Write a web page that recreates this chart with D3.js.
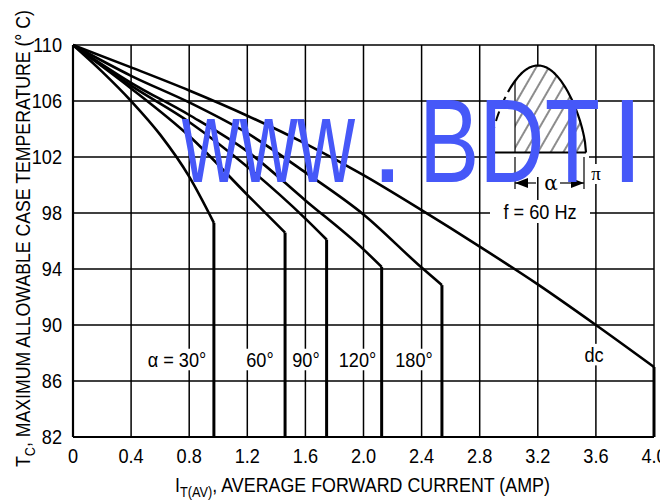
<!DOCTYPE html>
<html>
<head>
<meta charset="utf-8">
<script src="https://cdn.jsdelivr.net/npm/d3@7"></script>
<style>
  body { margin: 0; background: #fff; }
  svg { display: block; }
  text { font-family: "Liberation Sans", Arial, sans-serif; fill: #000; }
</style>
</head>
<body>
<svg id="chart" width="660" height="502"></svg>
<script>
// Axis ticks
var xTicks = [0, 0.4, 0.8, 1.2, 1.6, 2.0, 2.4, 2.8, 3.2, 3.6, 4.0];
var xTickLabels = ["0", "0.4", "0.8", "1.2", "1.6", "2.0", "2.4", "2.8", "3.2", "3.6", "4.0"];
var yTicks = [82, 86, 90, 94, 98, 102, 106, 110];

// Curves: average current (A) vs max case temperature (C)
var curveNames = ["α = 30°", "60°", "90°", "120°", "180°", "dc"];
var amps30  = [0, 0.2, 0.4, 0.6, 0.8, 0.97];
var temp30  = [110, 108.1, 106.0, 103.6, 100.6, 97.3];
var amps60  = [0, 0.4, 0.8, 1.2, 1.46];
var temp60  = [110, 106.9, 103.5, 99.3, 96.6];
var amps90  = [0, 0.4, 0.8, 1.2, 1.6, 1.746];
var temp90  = [110, 107.1, 104.5, 101.3, 97.6, 96.1];
var amps120 = [0, 0.4, 0.8, 1.2, 1.6, 2.0, 2.125];
var temp120 = [110, 107.3, 105.0, 102.4, 98.9, 95.4, 94.15];
var amps180 = [0, 0.4, 0.8, 1.2, 1.6, 2.0, 2.4, 2.54];
var temp180 = [110, 107.8, 105.9, 103.7, 100.9, 97.9, 94.1, 92.85];
var ampsDC  = [0, 0.4, 0.8, 1.2, 1.6, 2.0, 2.4, 2.8, 3.2, 3.6, 4.0];
var tempDC  = [110, 108.4, 106.75, 104.95, 102.95, 100.7, 98.2, 95.6, 92.9, 90.0, 87.0];

var curves = [[amps30, temp30], [amps60, temp60], [amps90, temp90],
              [amps120, temp120], [amps180, temp180], [ampsDC, tempDC]];

var NARROW = 0.865;   // Liberation Sans squeezed to look like the condensed face
var FS = 21;

var svg = d3.select("#chart");

var x = d3.scaleLinear().domain([0, 4]).range([73, 654]);
var y = d3.scaleLinear().domain([82, 110]).range([437, 45]);

// text helper: a group at (px,py), squeezed horizontally
function narrowText(parent, px, py, size, anchor, extra, sx) {
  var g = parent.append("g")
      .attr("transform", "translate(" + px + "," + py + ")" + (extra || "") + " scale(" + (sx || NARROW) + ",1)");
  var t = g.append("text").attr("font-size", size).attr("text-anchor", anchor || "start");
  return t;
}
// squeeze a title so that it spans a given length
function fitTitle(t, px, py, extra, len) {
  var w = t.node().getBBox().width;
  d3.select(t.node().parentNode)
      .attr("transform", "translate(" + px + "," + py + ")" + (extra || "") + " scale(" + (len / w) + ",1)");
}

// Grid
var grid = svg.append("g").attr("stroke", "#000").attr("stroke-width", 1.5);
grid.selectAll("line.v").data(xTicks).enter().append("line")
    .attr("x1", function(d) { return x(d); }).attr("x2", function(d) { return x(d); })
    .attr("y1", y(110)).attr("y2", y(82));
grid.selectAll("line.h").data(yTicks).enter().append("line")
    .attr("y1", function(d) { return y(d); }).attr("y2", function(d) { return y(d); })
    .attr("x1", x(0)).attr("x2", x(4));

// frame (left and bottom a bit heavier)
svg.append("line").attr("x1", x(0)).attr("x2", x(0)).attr("y1", y(110)).attr("y2", y(82))
    .attr("stroke", "#000").attr("stroke-width", 2.2);
svg.append("line").attr("x1", x(0)).attr("x2", x(4)).attr("y1", y(82)).attr("y2", y(82))
    .attr("stroke", "#000").attr("stroke-width", 2.2);

// Tick labels
var yl = svg.append("g");
yTicks.forEach(function(d) { narrowText(yl, 62, y(d) + 7, FS, "end").text(d); });
var xl = svg.append("g");
xTicks.forEach(function(d, i) { narrowText(xl, x(d), 463, FS, "middle").text(xTickLabels[i]); });

// Axis titles
var xt = narrowText(svg, 175, 492, FS, "start");
xt.append("tspan").text("I");
xt.append("tspan").attr("font-size", 15).attr("dy", 5).text("T(AV)");
xt.append("tspan").attr("dy", -5).text(", AVERAGE FORWARD CURRENT (AMP)");
fitTitle(xt, 175, 492, "", 375);

var yt = narrowText(svg, 30, 467, FS, "start", " rotate(-90)");
yt.append("tspan").text("T");
yt.append("tspan").attr("font-size", 15).attr("dy", 5).text("C");
yt.append("tspan").attr("dy", -5).text(", MAXIMUM ALLOWABLE CASE TEMPERATURE (° C)");
fitTitle(yt, 30, 467, " rotate(-90)", 457);

// Inset: half sine wave with conduction angle hatched
var inset = svg.append("g");
var defs = svg.append("defs");
defs.append("pattern").attr("id", "hatch").attr("patternUnits", "userSpaceOnUse")
    .attr("width", 11).attr("height", 11).attr("patternTransform", "rotate(30)")
  .append("line").attr("x1", 3).attr("x2", 3).attr("y1", 0).attr("y2", 11)
    .attr("stroke", "#000").attr("stroke-width", 0.9);

var w0 = 490, w1 = 586, wBase = 152.5, wAmp = 87, fire = 515;
function waveY(px) {
  var s = Math.max(0, Math.sin(Math.PI * (px - w0) / (w1 - w0)));
  return wBase - wAmp * Math.pow(s, 0.62);
}
function wavePts(a, b) { return d3.range(a, b + 0.01, 1).map(function(p) { return [p, waveY(p)]; }); }

// white knock-outs hiding the grid behind the inset
inset.append("path").attr("d", d3.line()(wavePts(w0, w1)) + "Z").attr("fill", "#fff");
inset.append("rect").attr("x", 489).attr("y", 150).attr("width", 100).attr("height", 27).attr("fill", "#fff");
inset.append("rect").attr("x", 589).attr("y", 164).attr("width", 15).attr("height", 20).attr("fill", "#fff");
inset.append("rect").attr("x", 542).attr("y", 174).attr("width", 18).attr("height", 18).attr("fill", "#fff");

var hatchPts = wavePts(fire, w1);
inset.append("path").attr("d", d3.line()([[fire, wBase]].concat(hatchPts)) + "Z")
    .attr("fill", "url(#hatch)");
inset.append("line").attr("x1", fire).attr("x2", fire).attr("y1", wBase).attr("y2", waveY(fire))
    .attr("stroke", "#000").attr("stroke-width", 1.2);
inset.append("path").attr("d", d3.line()(wavePts(w0 + 2, 507)))
    .attr("fill", "none").attr("stroke", "#000").attr("stroke-width", 2).attr("stroke-dasharray", "10,6");
inset.append("path").attr("d", d3.line()(wavePts(508, w1)))
    .attr("fill", "none").attr("stroke", "#000").attr("stroke-width", 2.2);
inset.append("line").attr("x1", 495).attr("x2", w1).attr("y1", wBase).attr("y2", wBase)
    .attr("stroke", "#000").attr("stroke-width", 2);

// dimension arrows for alpha
[fire, w1 - 2].forEach(function(px) {
  inset.append("line").attr("x1", px).attr("x2", px).attr("y1", 157).attr("y2", 189)
      .attr("stroke", "#000").attr("stroke-width", 1.2);
});
inset.append("line").attr("x1", fire).attr("x2", 536).attr("y1", 183).attr("y2", 183)
    .attr("stroke", "#000").attr("stroke-width", 1.2);
inset.append("line").attr("x1", 560).attr("x2", w1 - 2).attr("y1", 183).attr("y2", 183)
    .attr("stroke", "#000").attr("stroke-width", 1.2);
inset.append("path").attr("d", "M" + fire + ",183l13,-5v10z").attr("fill", "#000");
inset.append("path").attr("d", "M" + (w1 - 2) + ",183l-13,-5v10z").attr("fill", "#000");

inset.append("rect").attr("x", 490).attr("y", 200).attr("width", 100).attr("height", 23).attr("fill", "#fff");
narrowText(inset, 540, 219, FS, "middle").text("f = 60 Hz");

// Curves
var line = d3.line()
    .x(function(d) { return x(d[0]); })
    .y(function(d) { return y(d[1]); })
    .curve(d3.curveMonotoneX);

curves.forEach(function(c) {
  var pts = c[0].map(function(a, i) { return [a, c[1][i]]; });
  var knee = pts[pts.length - 1];
  svg.append("path").attr("d", line(pts))
      .attr("fill", "none").attr("stroke", "#000").attr("stroke-width", 2.6)
      .attr("stroke-linejoin", "round");
  svg.append("line").attr("x1", x(knee[0])).attr("x2", x(knee[0]))
      .attr("y1", y(knee[1])).attr("y2", y(82))
      .attr("stroke", "#000").attr("stroke-width", 3);
});

// Curve labels, with white background
var labelAmps = [0.716, 1.287, 1.604, 1.959, 2.348, 3.587];
var labelTemp = [87.0, 87.0, 87.0, 87.0, 87.0, 87.35];
curveNames.forEach(function(name, i) {
  var t = narrowText(svg, x(labelAmps[i]), y(labelTemp[i]), FS, "middle").text(name);
  var bb = t.node().getBBox();
  d3.select(t.node().parentNode).insert("rect", "text")
      .attr("x", bb.x - 4).attr("y", bb.y + 1)
      .attr("width", bb.width + 8).attr("height", bb.height - 2).attr("fill", "#fff");
});

// Watermark
var wm = svg.append("g");
function mark(px, txt, len) {
  var t = wm.append("text").attr("x", px).attr("y", 182).attr("font-size", 118)
      .style("fill", "#4658f8").text(txt);
  if (len) t.attr("textLength", len).attr("lengthAdjust", "spacingAndGlyphs");
}
mark(182, "www", 173);
mark(371, ".");
mark(419, "BDT", 181);
mark(611, "I");

// alpha / pi symbols of the inset, kept black on top
svg.append("text").attr("x", 551).attr("y", 190).attr("text-anchor", "middle")
    .attr("font-size", 20).style("font-family", "'DejaVu Serif', serif").style("fill", "#000").text("α");
svg.append("text").attr("x", 596).attr("y", 180).attr("text-anchor", "middle")
    .attr("font-size", 19).style("font-family", "'Liberation Serif', serif").style("fill", "#000").text("π");
</script>
</body>
</html>
